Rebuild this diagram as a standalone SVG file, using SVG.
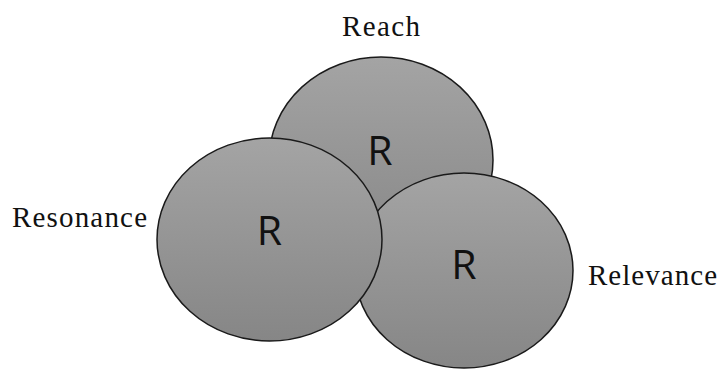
<svg xmlns="http://www.w3.org/2000/svg" width="721" height="373" viewBox="0 0 721 373">
<defs>
<linearGradient id="g" x1="0" y1="0" x2="0" y2="1">
<stop offset="0" stop-color="#a4a4a4"/>
<stop offset="1" stop-color="#868686"/>
</linearGradient>
</defs>
<style>
.c{fill:url(#g);stroke:#1a1a1a;stroke-width:1.5}
.r{font-family:"Open Sans","Noto Sans",sans-serif;font-size:41px;fill:#111;text-anchor:middle}
.l{font-family:"Liberation Serif",serif;font-size:29px;fill:#111}
</style>
<rect width="721" height="373" fill="#fff"/>
<g id="reach">
<ellipse class="c" cx="381" cy="160" rx="112" ry="103"/>
<text class="r" x="380" y="165">R</text>
</g>
<g id="relevance">
<ellipse class="c" cx="464" cy="270.5" rx="109" ry="97.5"/>
<text class="r" x="464" y="279">R</text>
</g>
<g id="resonance">
<ellipse class="c" cx="269.5" cy="239.5" rx="112.5" ry="101.5"/>
<text class="r" x="269.5" y="245">R</text>
</g>
<g id="labels">
<text class="l" x="342" y="36" textLength="78">Reach</text>
<text class="l" x="12" y="227" textLength="135">Resonance</text>
<text class="l" x="588" y="285" textLength="129">Relevance</text>
</g>
<g id="connectors"/>
</svg>
